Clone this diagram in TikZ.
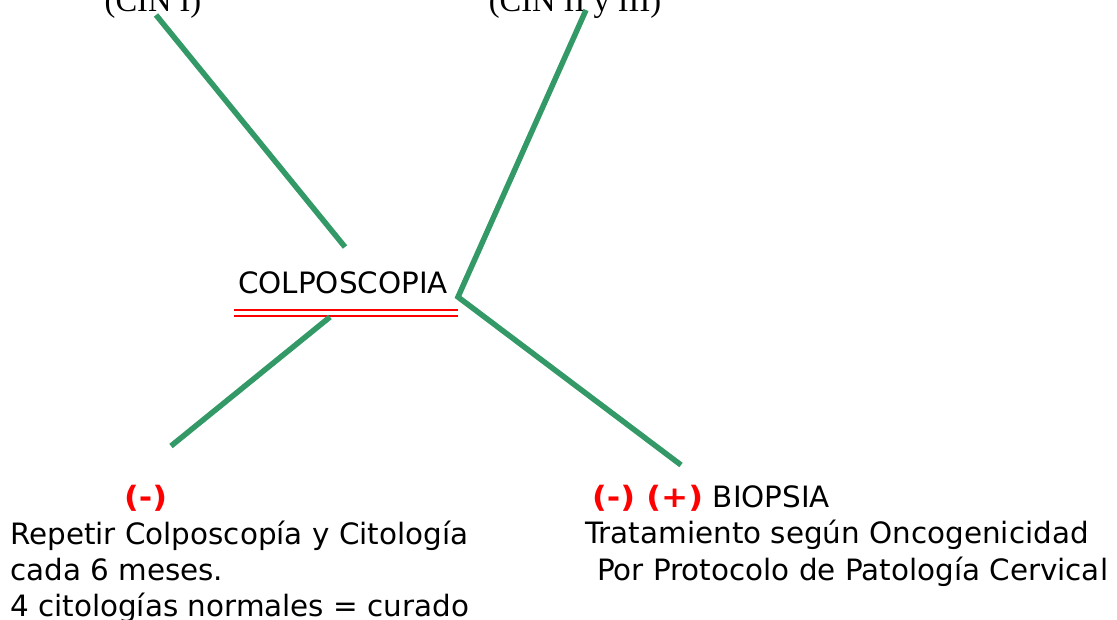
\documentclass[tikz,border=0pt]{standalone}
\usepackage{fontspec}
\setmainfont{DejaVu Sans}
\newfontfamily\cinfont{Liberation Serif}
\newfontfamily\signfont[FakeStretch=1.1]{DejaVu Sans Bold}
\usepackage{xcolor}
\usepackage{tikz}
\usetikzlibrary{positioning}
\definecolor{mygreen}{RGB}{51,153,102}
\definecolor{myred}{RGB}{255,0,0}
\tikzset{
  branch/.style={line width=5.5pt, color=mygreen},
  underl/.style={line width=2pt, color=myred},
  txt/.style={anchor=base west, inner sep=0pt, font=\fontsize{29.4}{36}\selectfont},
  cin/.style={anchor=base, inner sep=0pt, font=\cinfont\fontsize{32.5}{36}\selectfont},
  sign/.style={anchor=base west, inner sep=0pt, font=\signfont\fontsize{29.4}{36}\selectfont\color{myred}}
}

\begin{document}
\begin{tikzpicture}[x=1pt, y=-1pt]
\useasboundingbox (0,0) rectangle (1117,620);
% top labels
\node[cin] (cinI) at (153,12) {(CIN I)};
\node[cin] (cinII) at (575,12) {(CIN II y III)};
% centre
\node[txt] (colpo) at (238,294) {COLPOSCOPIA};
\draw[underl] (234,310) -- (458,310);
\draw[underl] (234,316) -- (458,316);
% ends of branches
\coordinate (a1) at (156,15);
\coordinate (a2) at (345,247);
\coordinate (b1) at (586,10);
\coordinate (v) at (458,297);
\coordinate (b2) at (681,465);
\coordinate (c1) at (330,317);
\coordinate (c2) at (171,446);
\draw[branch] (a1) -- (a2);
\draw[branch] (b1) -- (v) -- (b2);
\draw[branch] (c1) -- (c2);
% left result
\node[sign] (neg) at (124,507) {(-)};
\node[txt] (l1) at (10,544) {Repetir Colposcopía y Citología};
\node[txt] (l2) at (10,580) {cada 6 meses.};
\node[txt] (l3) at (10,616) {4 citologías normales = curado};
% right result
\node[sign] (negpos) at (592,507) {(-) (+)};
\node[txt, right=0pt of negpos.base east, anchor=base west] (bio) {\ BIOPSIA};
\node[txt] (r1) at (585,543) {Tratamiento según Oncogenicidad};
\node[txt] (r2) at (597,580) {Por Protocolo de Patología Cervical};
\end{tikzpicture}
\end{document}
